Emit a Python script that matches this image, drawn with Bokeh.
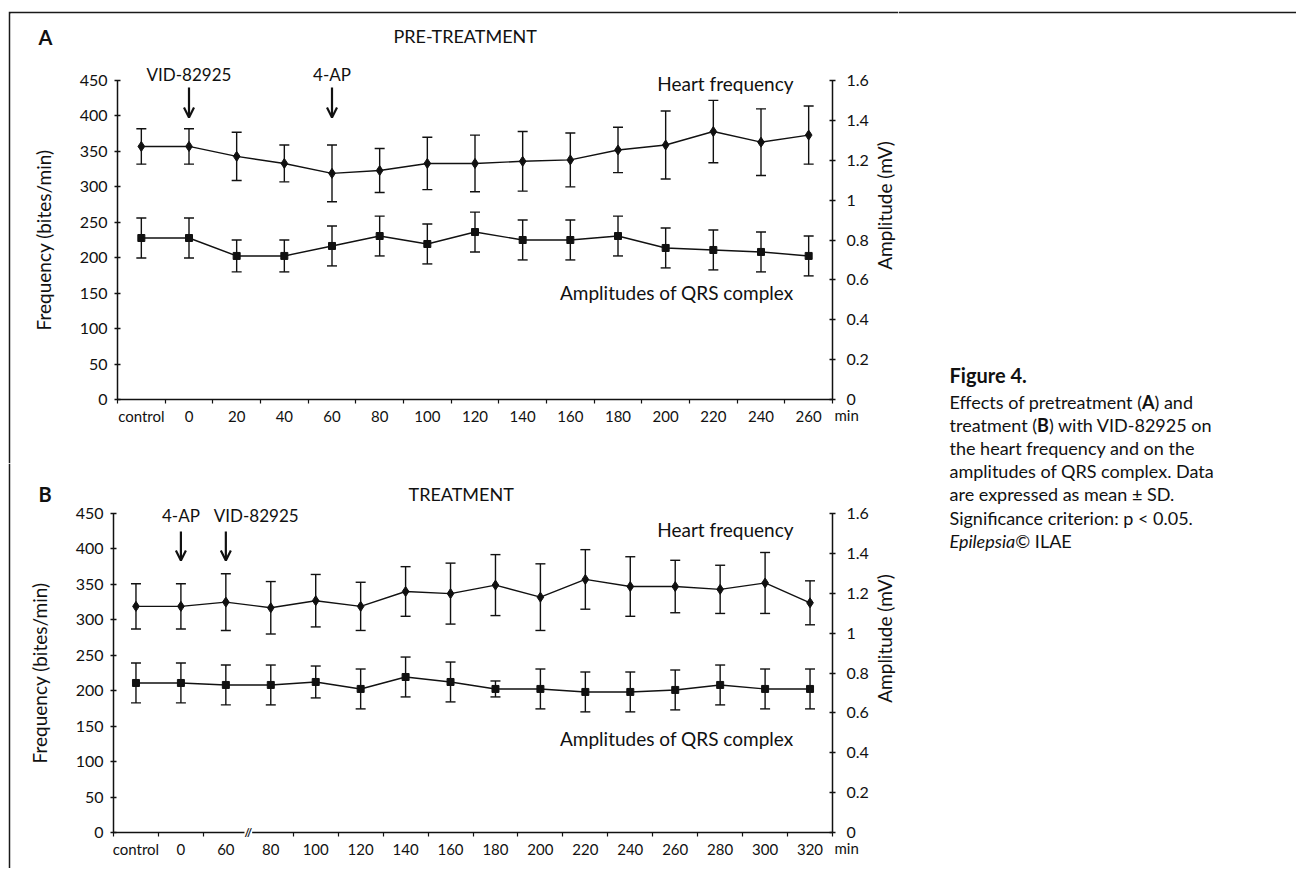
import os, glob, math
from bokeh.plotting import figure
from bokeh.models import (Range1d, LinearAxis, FixedTicker, Label, Arrow, OpenHead,
                          Spacer, CustomJSTickFormatter)
from bokeh.layouts import row, column
from bokeh.embed import file_html
from bokeh.resources import INLINE

FONT = "Lato"
INK = "#111111"
FRAME = "#1a1a1a"

# ---------------- data ----------------
# Panel A : pre-treatment
cats_a = ["control", "0", "20", "40", "60", "80", "100", "120", "140", "160",
          "180", "200", "220", "240", "260"]
hf_a = [357, 357, 343, 333, 319, 323, 333, 333, 336, 338, 352, 359, 378, 363, 373]
hf_a_sd = [25, 25, 34, 26, 40, 31, 37, 40, 42, 38, 32, 48, 44, 47, 41]
amp_a = [0.81, 0.81, 0.72, 0.72, 0.77, 0.82, 0.78, 0.84, 0.80, 0.80, 0.82,
         0.76, 0.75, 0.74, 0.72]
amp_a_sd = [0.10, 0.10, 0.08, 0.08, 0.10, 0.10, 0.10, 0.10, 0.10, 0.10, 0.10,
            0.10, 0.10, 0.10, 0.10]
events_a = [("VID-82925", "0"), ("4-AP", "60")]

# Panel B : treatment
cats_b = ["control", "0", "60", "80", "100", "120", "140", "160", "180", "200",
          "220", "240", "260", "280", "300", "320"]
hf_b = [319, 319, 325, 317, 327, 319, 340, 337, 349, 332, 357, 347, 347, 343, 352, 324]
hf_b_sd = [32, 32, 40, 37, 37, 34, 35, 43, 43, 47, 42, 42, 37, 34, 43, 31]
amp_b = [0.75, 0.75, 0.74, 0.74, 0.755, 0.72, 0.78, 0.755, 0.72, 0.72, 0.705,
         0.705, 0.715, 0.74, 0.72, 0.72]
amp_b_sd = [0.10, 0.10, 0.10, 0.10, 0.08, 0.10, 0.10, 0.10, 0.04, 0.10, 0.10,
            0.10, 0.10, 0.10, 0.10, 0.10]
events_b = [("4-AP", "0"), ("VID-82925", "60")]

freq_ticks = [0, 50, 100, 150, 200, 250, 300, 350, 400, 450]
amp_ticks = [0.0, 0.2, 0.4, 0.6, 0.8, 1.0, 1.2, 1.4, 1.6]
FREQ_MAX = 450.0
AMP_MAX = 1.6

caption_title = "Figure 4."
caption_lines = [
    [("Effects of pretreatment (", "Regular"), ("A", "Bold"), (") and", "Regular")],
    [("treatment (", "Regular"), ("B", "Bold"), (") with VID-82925 on", "Regular")],
    [("the heart frequency and on the", "Regular")],
    [("amplitudes of QRS complex. Data", "Regular")],
    [("are expressed as mean \u00b1 SD.", "Regular")],
    [("Significance criterion: p < 0.05.", "Regular")],
    [("Epilepsia", "Italic"), (" \u00a9 ILAE", "Regular")],
]


# ---------------- helpers ----------------
def find_font(fname):
    for d in ("/usr/share/fonts", "/usr/local/share/fonts"):
        hits = glob.glob(os.path.join(d, "**", fname), recursive=True)
        if hits:
            return hits[0]
    return None


def text_width(text, size, style="Regular"):
    try:
        from PIL import ImageFont
        path = find_font("Lato-%s.ttf" % style)
        if path:
            return ImageFont.truetype(path, size).getlength(text)
    except Exception:
        pass
    return 0.5 * size * len(text)


def style_axis(ax, size="16px"):
    ax.axis_line_color = INK
    ax.axis_line_width = 1.5
    ax.major_tick_line_color = INK
    ax.major_tick_line_width = 1.3
    ax.minor_tick_line_color = None
    ax.major_label_text_font = FONT
    ax.major_label_text_font_size = size
    ax.major_label_text_color = INK
    ax.axis_label_text_font = FONT
    ax.axis_label_text_font_style = "normal"
    ax.axis_label_text_font_size = "19px"
    ax.axis_label_text_color = INK


def label(p, x, y, text, size="19px", align="left", style="normal", **kw):
    p.add_layout(Label(x=x, y=y, text=text, text_font=FONT, text_font_size=size,
                       text_color=INK, text_align=align, text_baseline="middle",
                       text_font_style=style, **kw))


def make_panel(cats, hf, hf_sd, amp, amp_sd, events, g):
    n = len(cats)
    L, R, T, B = g["L"], g["R"], g["T"], g["B"]       # plot area on the page (px)
    ox, oy, W, H, bl, bt = g["ox"], g["oy"], g["W"], g["H"], g["bl"], g["bt"]
    sx = (R - L) / n
    sy = (B - T) / FREQ_MAX

    def X(px):
        return (px - L) / sx

    def Y(py):
        return (B - py) / sy

    fx0, fx1 = ox + bl, ox + W
    fy0, fy1 = oy + bt, oy + H
    p = figure(width=W, height=H, x_range=Range1d(X(fx0), X(fx1)),
               y_range=Range1d(Y(fy1), Y(fy0)),
               min_border_left=bl, min_border_top=bt, min_border_right=0,
               min_border_bottom=0, toolbar_location=None, output_backend="svg",
               outline_line_color=None, background_fill_color="white",
               border_fill_color=FRAME)
    p.xgrid.visible = False
    p.ygrid.visible = False
    k = AMP_MAX / FREQ_MAX
    p.extra_y_ranges = {"amp": Range1d(Y(fy1) * k, Y(fy0) * k)}

    # x axis (category axis, tick marks between categories)
    xs = [i + 0.5 for i in range(n)]
    xa = p.xaxis[0]
    style_axis(xa, "15px")
    xa.fixed_location = 0
    xa.bounds = (0, n)
    xa.ticker = FixedTicker(ticks=xs, minor_ticks=list(range(n + 1)))
    xa.formatter = CustomJSTickFormatter(args=dict(labels=cats),
                                         code="return labels[Math.floor(tick)];")
    xa.major_tick_out = 0
    xa.major_tick_in = 0
    xa.minor_tick_line_color = INK
    xa.minor_tick_line_width = 1.2
    xa.minor_tick_out = 4
    xa.minor_tick_in = 0
    xa.major_label_standoff = 3

    # left axis
    ya = p.yaxis[0]
    style_axis(ya)
    ya.fixed_location = 0
    ya.bounds = (0, FREQ_MAX)
    ya.ticker = FixedTicker(ticks=freq_ticks)
    ya.major_tick_in = 3
    ya.major_tick_out = 3
    ya.major_label_standoff = 7
    ya.axis_label = "Frequency (bites/min)"
    ya.axis_label_standoff = 22

    # right axis
    ra = LinearAxis(y_range_name="amp", fixed_location=n, bounds=(0, AMP_MAX))
    style_axis(ra)
    ra.ticker = FixedTicker(ticks=amp_ticks)
    ra.formatter = CustomJSTickFormatter(code="return String(Math.round(tick*10)/10);")
    ra.major_tick_in = 3
    ra.major_tick_out = 3
    ra.major_label_standoff = 11
    p.add_layout(ra, "right")

    # heart frequency (left axis)
    lo = [v - s for v, s in zip(hf, hf_sd)]
    hi = [v + s for v, s in zip(hf, hf_sd)]
    p.segment(xs, lo, xs, hi, line_color=INK, line_width=1.4)
    p.scatter(xs, lo, marker="dash", size=10, line_color=INK, line_width=1.4)
    p.scatter(xs, hi, marker="dash", size=10, line_color=INK, line_width=1.4)
    p.line(xs, hf, line_color=INK, line_width=1.4)
    p.scatter(xs, hf, marker="diamond", size=10, color=INK)

    # amplitude of QRS complex (right axis)
    alo = [v - s for v, s in zip(amp, amp_sd)]
    ahi = [v + s for v, s in zip(amp, amp_sd)]
    p.segment(xs, alo, xs, ahi, line_color=INK, line_width=1.4, y_range_name="amp")
    p.scatter(xs, alo, marker="dash", size=10, line_color=INK, line_width=1.4,
              y_range_name="amp")
    p.scatter(xs, ahi, marker="dash", size=10, line_color=INK, line_width=1.4,
              y_range_name="amp")
    p.line(xs, amp, line_color=INK, line_width=1.4, y_range_name="amp")
    p.scatter(xs, amp, marker="square", size=7, color=INK, y_range_name="amp")

    # event arrows
    for (txt, cat), al, off in zip(events, g["ev_align"], g["ev_off"]):
        ex = cats.index(cat) + 0.5
        label(p, ex, Y(g["ev_text"]), txt, size="17px", align=al, x_offset=off)
        p.add_layout(Arrow(x_start=ex, y_start=Y(g["ev_y0"]), x_end=ex,
                           y_end=Y(g["ev_y1"]), line_color=INK, line_width=2.2,
                           end=OpenHead(size=10, line_color=INK, line_width=2.2)))

    # panel letter, title, series names, unit, right axis title
    label(p, X(g["letter"][0]), Y(g["letter"][1]), g["letter_txt"], size="20px",
          style="bold")
    label(p, X(g["title"][0]), Y(g["title"][1]), g["title_txt"], size="18px")
    label(p, X(g["names_r"]), Y(g["hf_y"]), "Heart frequency", align="right")
    label(p, X(g["names_r"]), Y(g["amp_y"]), "Amplitudes of QRS complex", align="right")
    label(p, X(g["min"][0]), Y(g["min"][1]), "min", size="15px")
    p.add_layout(Label(x=X(g["amp_lab"][0]), y=Y(g["amp_lab"][1]),
                       text="Amplitude (mV)", angle=math.pi / 2, text_font=FONT,
                       text_font_size="19px", text_color=INK, text_align="center",
                       text_baseline="middle"))
    if g.get("brk") is not None:
        p.add_layout(Label(x=g["brk"], y=0, text="//", text_font=FONT,
                           text_font_size="11px", text_font_style="bold",
                           text_color=INK, text_align="center", text_baseline="middle",
                           background_fill_color="white"))
    return p


# page geometry (px) of both panels
geo_a = dict(ox=8, oy=11, W=890, H=452, bl=2, bt=2, L=117, R=832, T=80, B=399,
             letter=(38, 36), letter_txt="A", title=(393, 35), title_txt="PRE-TREATMENT",
             ev_text=74, ev_y0=87, ev_y1=117, ev_align=["center", "center"], ev_off=[0, 0],
             names_r=793, hf_y=83, amp_y=292, min=(834, 414), amp_lab=(884, 205))
geo_b = dict(ox=8, oy=463, W=890, H=405, bl=2, bt=0, L=113, R=832, T=513, B=832,
             letter=(38, 493), letter_txt="B", title=(408, 493), title_txt="TREATMENT",
             ev_text=515, ev_y0=531, ev_y1=560, ev_align=["center", "left"], ev_off=[0, -12],
             names_r=793, hf_y=529, amp_y=738, min=(834, 847), amp_lab=(884, 638),
             brk=3.0)

pA = make_panel(cats_a, hf_a, hf_a_sd, amp_a, amp_a_sd, events_a, geo_a)
pB = make_panel(cats_b, hf_b, hf_b_sd, amp_b, amp_b_sd, events_b, geo_b)

# ---------------- caption (page coordinates) ----------------
pC = figure(width=398, height=857, x_range=Range1d(898, 1296), y_range=Range1d(868, 13),
            x_axis_location=None, y_axis_location=None, min_border_left=0,
            min_border_right=0, min_border_bottom=0, min_border_top=2,
            toolbar_location=None, output_backend="svg", outline_line_color=None,
            background_fill_color="white", border_fill_color=FRAME)
pC.grid.visible = False
CAP = 18
cx0 = 949
label(pC, cx0, 374, caption_title, size="20px", style="bold")
for k, segs in enumerate(caption_lines):
    cy = 401 + 23.2 * k
    cx = cx0
    for txt, st in segs:
        fs = {"Regular": "normal", "Bold": "bold", "Italic": "italic"}[st]
        label(pC, cx, cy, txt, size="%dpx" % CAP, style=fs)
        cx += text_width(txt, CAP, st)

layout = column(Spacer(width=1296, height=11),
                row(Spacer(width=8, height=857), column(pA, pB), pC))

with open("out.html", "w") as fh:
    fh.write(file_html(layout, INLINE, title="Figure 4"))
